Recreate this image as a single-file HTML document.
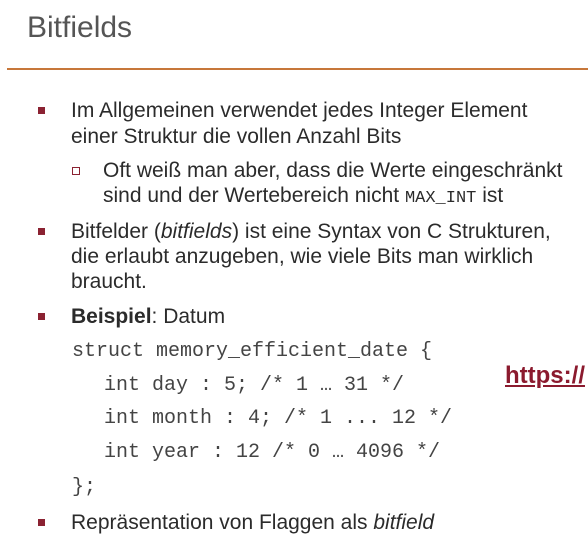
<!DOCTYPE html>
<html><head><meta charset="utf-8"><style>
body{margin:0;width:588px;height:543px;background:#fff;position:relative;overflow:hidden;font-family:"Liberation Sans",sans-serif;color:#2b2b2b}
.a{position:absolute;white-space:nowrap;line-height:1}
.t{font-size:21px}
.c{font-family:"Liberation Mono",monospace;font-size:20px;color:#444}
.b{position:absolute;width:7px;height:7px;background:#8b2232}
.h{position:absolute;width:6px;height:6px;border:1px solid #8b2232;background:#fff}
</style></head><body>
<div class="a" style="left:27px;top:13px;font-size:30px;color:#555">Bitfields</div>
<div style="position:absolute;left:7px;top:68px;width:581px;height:2px;background:#c7773a"></div>

<div class="b" style="left:38px;top:107px"></div>
<div class="a t" style="left:71px;top:100px">Im Allgemeinen verwendet jedes Integer Element</div>
<div class="a t" style="left:71px;top:126px">einer Struktur die vollen Anzahl Bits</div>

<div class="h" style="left:72px;top:167px"></div>
<div class="a t" style="left:103px;top:160px">Oft weiß man aber, dass die Werte eingeschränkt</div>
<div class="a t" style="left:103px;top:185px">sind und der Wertebereich nicht <span style="font-family:'Liberation Mono',monospace;font-size:17px">MAX_INT</span> ist</div>

<div class="b" style="left:38px;top:228px"></div>
<div class="a t" style="left:71px;top:221px">Bitfelder (<i>bitfields</i>) ist eine Syntax von C Strukturen,</div>
<div class="a t" style="left:71px;top:246px">die erlaubt anzugeben, wie viele Bits man wirklich</div>
<div class="a t" style="left:71px;top:271px">braucht.</div>

<div class="b" style="left:38px;top:313px"></div>
<div class="a t" style="left:71px;top:306px"><b>Beispiel</b>: Datum</div>

<div class="a c" style="left:72px;top:342px">struct memory_efficient_date {</div>
<div class="a c" style="left:104px;top:376px">int day : 5; /* 1 … 31 */</div>
<div class="a c" style="left:104px;top:409px">int month : 4; /* 1 ... 12 */</div>
<div class="a c" style="left:104px;top:443px">int year : 12 /* 0 … 4096 */</div>
<div class="a c" style="left:72px;top:478px">};</div>

<div class="a" style="left:505px;top:364px;font-size:24px;font-weight:bold;color:#8b1a2e;text-decoration:underline">https://</div>

<div class="b" style="left:38px;top:519px"></div>
<div class="a t" style="left:71px;top:512px">Repräsentation von Flaggen als <i>bitfield</i></div>
</body></html>
